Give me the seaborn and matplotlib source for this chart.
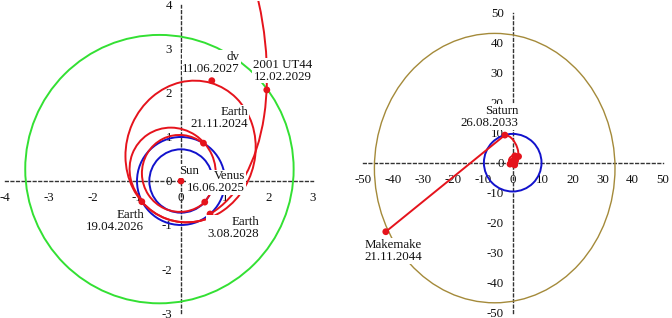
import numpy as np
import pandas as pd
import matplotlib
matplotlib.use('Agg')
import matplotlib.pyplot as plt
from matplotlib.patches import Arc, Ellipse
import seaborn as sns

W_PX, H_PX = 672, 318

# encounters (AU, ecliptic projection)
EV_NAME = ['Sun', 'Earth', 'Venus', 'Earth', 'dv', 'Earth', '2001 UT44', 'Saturn', 'Makemake']
EV_DATE = ['', '21.11.2024', '16.06.2025', '19.04.2026', '11.06.2027', '3.08.2028',
           '12.02.2029', '26.08.2033', '21.11.2044']
EV_X = [0.0, 0.51, 0.54, -0.89, 0.70, 0.66, 1.95, -2.6, -42.3]
EV_Y = [0.0, 0.86, -0.48, -0.47, 2.28, -0.75, 2.07, 9.2, -23.0]

# transfer legs (kepler arcs, sun in focus)
LEG_FROM = [1, 2, 3, 4, 5]
LEG_TO = [2, 3, 4, 5, 7]
LEG_PERI = [0.70, 0.71, 0.92, 0.92, 0.966]
LEG_APO = [1.05, 1.30, 2.33, 2.33, 9.62]
LEG_ARGP = [280, 310, 252, 252, -71.1]

# orbits of the bodies
ORB_NAME = ['Venus', 'Earth', '2001 UT44', 'Saturn', 'Makemake']
ORB_CX = [0.0, 0.0, -0.49, 0.0, -6.0]
ORB_CY = [0.0, 0.0, 0.27, 0.0, -1.8]
ORB_RX = [0.72, 1.0, 3.05, 9.6, 40.1]
ORB_RY = [0.72, 1.0, 3.05, 9.6, 44.9]

# label anchors (right edge, middle of block)
LBL_X = [0.18, 1.53, 1.45, -0.84, 1.34, 1.77, 2.98, 1.8, -30.2]
LBL_Y = [0.23, 1.43, -0.03, -0.91, 2.69, -1.06, 2.51, 15.2, -29.5]

RED = '#e5131c'
BLUE = '#1212cc'
ORB_COLOR = {'Venus': BLUE, 'Earth': BLUE, '2001 UT44': '#33e033',
             'Saturn': BLUE, 'Makemake': '#a48a3a'}

sns.set_theme(style='white')
plt.rcParams['font.family'] = ['Liberation Serif', 'DejaVu Serif']
plt.rcParams['axes.unicode_minus'] = False
FS = 9.3


def leg_arc(k):
    q, Q = LEG_PERI[k], LEG_APO[k]
    w = np.deg2rad(LEG_ARGP[k])
    a = (q + Q) / 2
    c = (Q - q) / 2
    b = np.sqrt(q * Q)
    e = c / a
    p = a * (1 - e ** 2)
    th = []
    for i in (LEG_FROM[k], LEG_TO[k]):
        phi = np.arctan2(EV_Y[i], EV_X[i]) - w
        r = p / (1 + e * np.cos(phi))
        th.append(np.degrees(np.arctan2(r * np.sin(phi), r * np.cos(phi) + c)))
    return Arc((-c * np.cos(w), -c * np.sin(w)), 2 * a, 2 * b, angle=np.degrees(w),
               theta1=th[0], theta2=th[1], color=RED, lw=1.4, zorder=3)


def place(fig, ox, oy, s, xlim, ylim):
    rect = [(ox + xlim[0] * s) / W_PX, (H_PX - (oy - ylim[0] * s)) / H_PX,
            (xlim[1] - xlim[0]) * s / W_PX, (ylim[1] - ylim[0]) * s / H_PX]
    ax = fig.add_axes(rect)
    ax.set_xlim(*xlim)
    ax.set_ylim(*ylim)
    return ax


def dotted_axes(ax, xt, yt):
    for side in ('top', 'right'):
        ax.spines[side].set_visible(False)
    for side in ('left', 'bottom'):
        sp = ax.spines[side]
        sp.set_position(('data', 0))
        sp.set_linestyle((0, (2, 2)))
        sp.set_linewidth(1.0)
        sp.set_color('#333333')
    ax.spines['bottom'].set_bounds(xt[0], xt[-1])
    ax.spines['left'].set_bounds(yt[0], yt[-1])
    ax.set_xticks(xt)
    ax.set_yticks(yt)
    ax.tick_params(direction='inout', length=6, width=0.8, color='#222222',
                   labelsize=FS, labelcolor='#111111')
    ax.tick_params(axis='x', pad=5)
    ax.tick_params(axis='y', pad=3.5)
    ax.patch.set_alpha(0)


def label(ax, i):
    txt = EV_NAME[i] if not EV_DATE[i] else EV_NAME[i] + '\n' + EV_DATE[i]
    ha = 'center' if not EV_DATE[i] else 'right'
    ax.text(LBL_X[i], LBL_Y[i], txt, ha=ha, va='center', multialignment='right',
            linespacing=1.0, fontsize=FS, color='#111111',
            zorder=6 if not EV_DATE[i] else 5,
            bbox=dict(facecolor='white', edgecolor='none', pad=0.6))


def orbit(ax, j):
    ax.add_patch(Ellipse((ORB_CX[j], ORB_CY[j]), 2 * ORB_RX[j], 2 * ORB_RY[j], fill=False,
                         edgecolor=ORB_COLOR[ORB_NAME[j]],
                         lw=1.0 if ORB_NAME[j] == 'Makemake' else 1.4, zorder=3))


events = pd.DataFrame({'x': EV_X, 'y': EV_Y, 'name': EV_NAME})

fig = plt.figure(figsize=(W_PX / 100, H_PX / 100), dpi=100)

# inner system
ax1 = place(fig, 181, 181, 44, (-4.12, 3.2), (-3.12, 4.1))
dotted_axes(ax1, list(range(-4, 4)), list(range(-3, 5)))
for j in range(3):
    orbit(ax1, j)
for k in range(len(LEG_FROM)):
    ax1.add_patch(leg_arc(k))
sns.scatterplot(data=events.iloc[:7], x='x', y='y', ax=ax1, color=RED, s=24,
                edgecolor='none', zorder=4, legend=False)
for i in range(7):
    label(ax1, i)

# outer system
ax2 = place(fig, 512.7, 162.7, 3, (-51, 52), (-51.7, 52))
ticks = list(range(-50, 60, 10))
dotted_axes(ax2, ticks, ticks)
for j in range(3, 5):
    orbit(ax2, j)
for k in range(len(LEG_FROM)):
    ax2.add_patch(leg_arc(k))
sns.lineplot(data=events.iloc[7:9], x='x', y='y', ax=ax2, color=RED, lw=1.4,
             sort=False, estimator=None, zorder=3)
sns.scatterplot(data=events, x='x', y='y', ax=ax2, color=RED, s=24,
                edgecolor='none', zorder=4, legend=False)
for i in (7, 8):
    label(ax2, i)

for ax in (ax1, ax2):
    ax.set_xlabel('')
    ax.set_ylabel('')

fig.savefig('out.png', dpi=100)
